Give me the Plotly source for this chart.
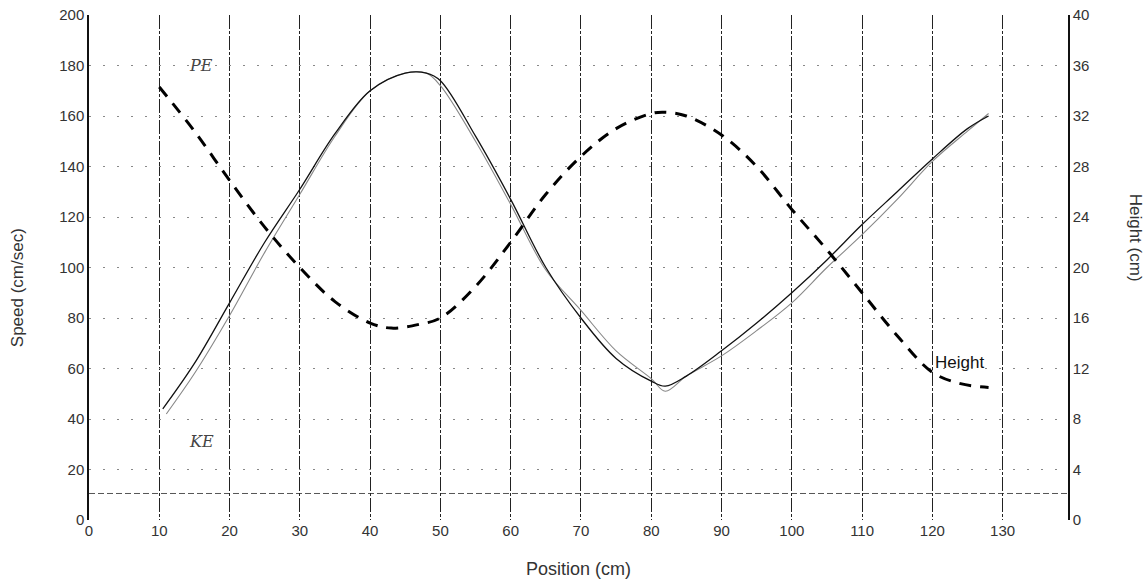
import plotly.graph_objects as go

# Height curve (right axis, cm)
height_x = [10, 15, 20, 25, 30, 35, 40, 43, 47, 50, 55, 60, 65, 70, 75, 80, 82, 85, 90, 95, 100, 105, 110, 115, 120, 124, 128]
height_y = [34.3, 30.8, 26.9, 23.2, 20.0, 17.3, 15.6, 15.2, 15.5, 16.0, 18.5, 22.0, 25.8, 28.8, 31.0, 32.2, 32.3, 32.0, 30.5, 28.0, 24.6, 21.4, 18.0, 14.6, 11.7, 10.8, 10.5]

# Speed curve A (left axis, cm/sec)
speed_a_x = [10.5, 15, 20, 25, 30, 35, 40, 45, 48, 50, 55, 60, 65, 70, 75, 80, 82, 85, 90, 95, 100, 105, 110, 115, 120, 125, 128]
speed_a_y = [44, 62, 86, 110, 131, 153, 170, 177, 177, 174, 152, 127, 100, 80, 64, 55, 53, 57, 67, 78, 90, 103, 117, 130, 143, 155, 160]

# Speed curve B (left axis, cm/sec)
speed_b_x = [11, 15, 20, 25, 30, 35, 40, 45, 48, 50, 55, 60, 65, 70, 75, 80, 82, 85, 90, 95, 100, 105, 110, 115, 120, 125, 128]
speed_b_y = [42, 58, 81, 106, 129, 152, 170, 177, 177, 172, 150, 125, 99, 83, 67, 56, 51, 57, 65, 75, 86, 100, 113, 127, 142, 154, 161]

x_ticks = list(range(0, 140, 10))
left_ticks = list(range(0, 201, 20))
right_ticks = list(range(0, 41, 4))
ref_line_speed = 10.5

FONT = "Liberation Sans Narrow, Liberation Sans, Arial, sans-serif"

fig = go.Figure()
fig.add_trace(go.Scatter(x=speed_b_x, y=speed_b_y, mode="lines", line=dict(color="#888888", width=1.1, shape="spline"), showlegend=False))
fig.add_trace(go.Scatter(x=speed_a_x, y=speed_a_y, mode="lines", line=dict(color="#111111", width=1.3, shape="spline"), showlegend=False))
fig.add_trace(go.Scatter(x=height_x, y=height_y, mode="lines", yaxis="y2",
                         line=dict(color="#000000", width=3, dash="12px,9px", shape="spline"), showlegend=False))

fig.add_shape(type="line", xref="x", yref="y", x0=0, x1=139.3, y0=ref_line_speed, y1=ref_line_speed,
              line=dict(color="#555555", width=1, dash="6px,3px"), layer="below")

fig.add_annotation(x=123.8, y=62.5, text="Height", showarrow=False, font=dict(family=FONT, size=17, color="#111"))
fig.add_annotation(x=16, y=180, text="<i>PE</i>", showarrow=False, font=dict(family="DejaVu Serif", size=16, color="#444"))
fig.add_annotation(x=16, y=31, text="<i>KE</i>", showarrow=False, font=dict(family="DejaVu Serif", size=16, color="#444"))
fig.add_annotation(xref="paper", yref="paper", x=1.0, xanchor="left", xshift=56, y=0.56, text="Height (cm)",
                   textangle=90, showarrow=False, font=dict(family=FONT, size=17, color="#333"))
fig.add_annotation(xref="paper", yref="paper", x=0.0, xanchor="right", xshift=-60, y=0.46, text="Speed (cm/sec)",
                   textangle=-90, showarrow=False, font=dict(family=FONT, size=17, color="#333"))

fig.update_layout(
    width=1147, height=588,
    margin=dict(l=89, r=79, t=15, b=68, autoexpand=False),
    paper_bgcolor="white", plot_bgcolor="white",
    font=dict(family=FONT, size=15, color="#333"),
    xaxis=dict(range=[0, 139.3], tickvals=x_ticks, ticks="", showline=False, zeroline=False, automargin=False,
               showgrid=True, gridcolor="#222", gridwidth=1.3, griddash="14px,2px,3px,2px",
               ticklabeloverflow="allow",
               title=dict(text="Position (cm)", font=dict(size=18), standoff=24)),
    yaxis=dict(range=[0, 200], tickvals=left_ticks, ticks="", showline=True, linecolor="#111", linewidth=1.5,
               ticklabeloverflow="allow",
               zeroline=False, showgrid=True, gridcolor="#888", gridwidth=1, griddash="2px,12px", automargin=False),
    yaxis2=dict(range=[0, 40], tickvals=right_ticks, overlaying="y", side="right", ticks="", automargin=False,
                ticklabeloverflow="allow",
                showline=True, linecolor="#111", linewidth=1.5, showgrid=False, zeroline=False),
)
fig.update_yaxes(minor=dict(dtick=10, showgrid=True, gridcolor="#999", griddash="2px,14px", gridwidth=1), selector=dict(anchor="x"))

fig.write_html("out.html", config={"displayModeBar": False},
               post_script="document.body.style.margin='0px';")
